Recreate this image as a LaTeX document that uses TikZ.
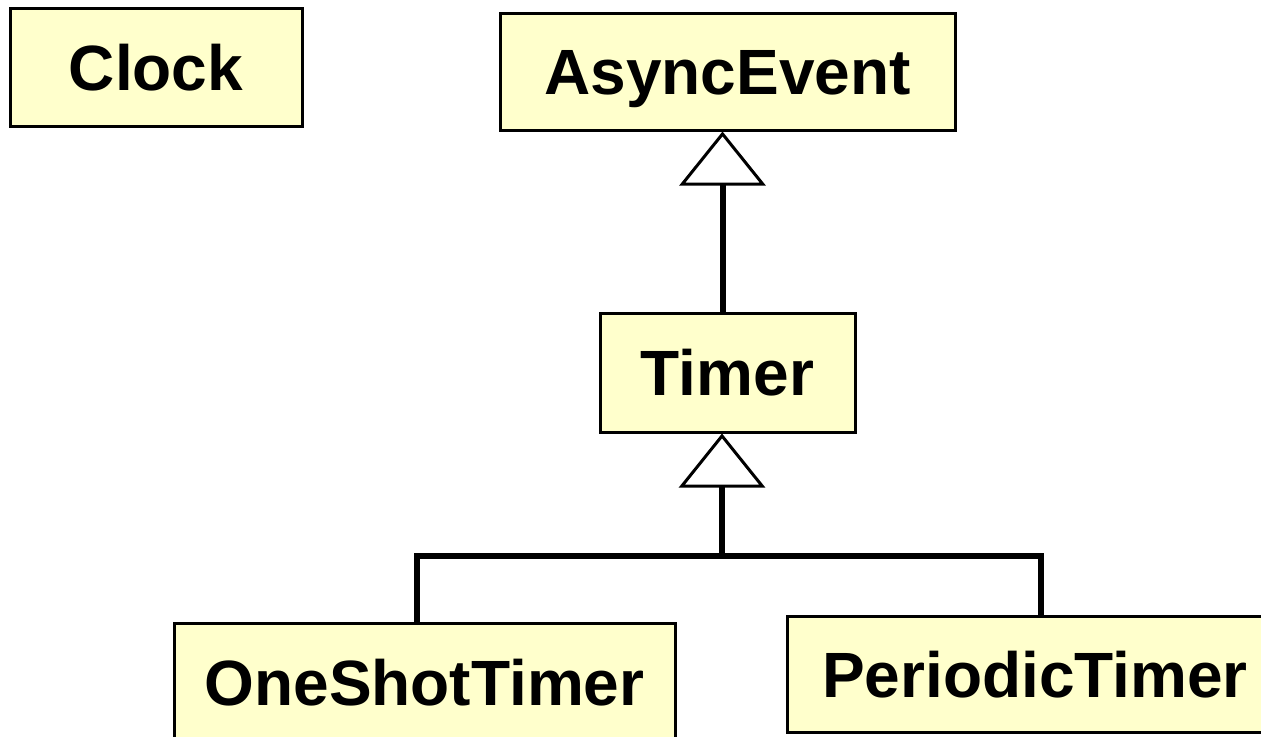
\documentclass[tikz,border=0pt]{standalone}
\usepackage{fontspec}
\setmainfont{Liberation Sans}
\usetikzlibrary{positioning,arrows.meta}
\definecolor{umlfill}{RGB}{255,255,204}

\tikzset{
  cls/.style={draw,line width=1.5pt,fill=umlfill,inner sep=0pt,
    minimum height=59pt,text height=23pt,text depth=0pt,
    font=\bfseries\fontsize{32}{38}\selectfont},
  isa/.style={-{Triangle[open,length=27pt,width=43pt,line width=1.5pt]},
    line width=3pt},
  bar/.style={line width=3pt}
}

\begin{document}
\begin{tikzpicture}[x=0.5pt,y=-0.5pt,on grid,node distance=150pt]
      \useasboundingbox (0,0) rectangle (1261,736);
      \clip (0,0) rectangle (1261,736);
      \node[cls,minimum width=227.5pt,minimum height=58.5pt] (async) at (727.5,71.5) {AsyncEvent};
      \node[cls,minimum width=146pt] (clock) [left=285.75pt of async,yshift=2.25pt] {Clock};
      \node[cls,minimum width=127.5pt,minimum height=59.5pt] (timer) [below=150.5pt of async] {Timer};
      \node[cls,minimum width=250.5pt] (oneshot) [below left=155pt and 151.5pt of timer] {OneShotTimer};
      \node[cls,minimum width=248pt,minimum height=58pt] (periodic) [below right=151pt and 153.75pt of timer] {PeriodicTimer};
      \coordinate (fork) at (722,556);
      \draw[isa] ([xshift=-2.5pt]timer.north) -- ([xshift=-2.5pt]timer.north |- async.south);
      \draw[isa] (fork) -- (fork |- timer.south);
      \draw[bar] ([xshift=-3.75pt]oneshot.north) |- (fork) -| ([xshift=3pt]periodic.north);
\end{tikzpicture}
\end{document}
